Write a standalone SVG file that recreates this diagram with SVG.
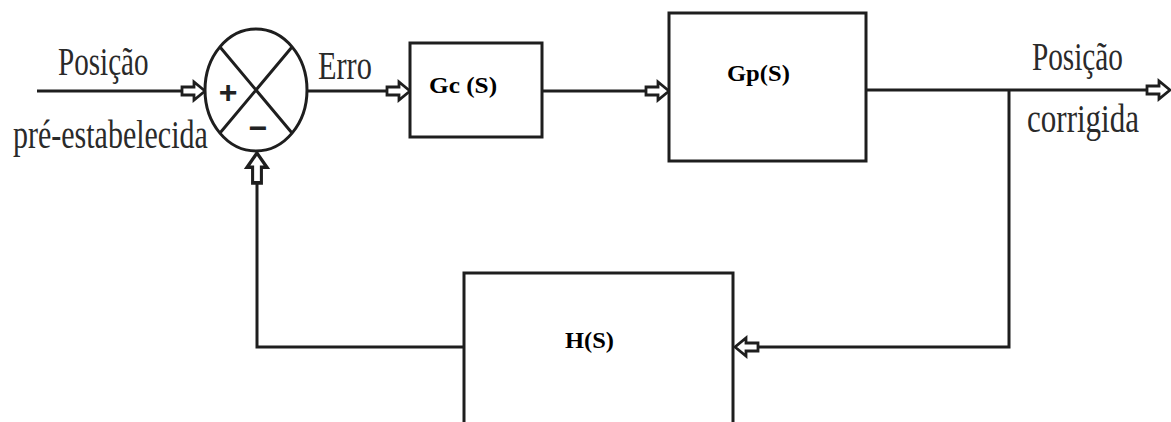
<svg xmlns="http://www.w3.org/2000/svg" xmlns:xlink="http://www.w3.org/1999/xlink" width="1171" height="422" viewBox="0 0 1171 422">
<style>
.ln{fill:none;stroke:#1e1e1e;stroke-width:3}
.box{fill:#fff;stroke:#1e1e1e;stroke-width:3}
.lbl{font-family:"Liberation Serif","Times New Roman",serif;fill:#2a2a2a;font-size:41px}
.blk{font-family:"Liberation Serif","Times New Roman",serif;font-weight:bold;fill:#000;font-size:23px}
.sgn{font-family:"Liberation Sans",Arial,sans-serif;font-weight:bold;fill:#222;font-size:32px}
</style>
<defs>
<path id="harrow" d="M0,0 L-11,-9 L-11,-4 L-23,-4 L-23,4 L-11,4 L-11,9 Z" fill="#fff" stroke="#1e1e1e" stroke-width="2.8" stroke-linejoin="miter"/>
</defs>
<rect width="1171" height="422" fill="#fff"/>
<g id="connectors">
<path class="ln" d="M37,91 H183"/>
<path class="ln" d="M307,91 H387"/>
<path class="ln" d="M542,91 H646"/>
<path class="ln" d="M866,90 H1147"/>
<path class="ln" d="M1009,90 V347 H758"/>
<path class="ln" d="M464,347 H257 V181"/>
<use xlink:href="#harrow" transform="translate(205,91)"/>
<use xlink:href="#harrow" transform="translate(410,91)"/>
<use xlink:href="#harrow" transform="translate(669,91)"/>
<use xlink:href="#harrow" transform="translate(1170,90)"/>
<use xlink:href="#harrow" transform="translate(735,347) rotate(180)"/>
<use xlink:href="#harrow" transform="translate(257,153) rotate(-90) scale(1.3,1.1)"/>
</g>
<g id="sum">
<ellipse class="box" cx="256" cy="90" rx="51" ry="61"/>
<path class="ln" d="M220,47 L292,133 M292,47 L220,133"/>
<text class="sgn" x="228" y="103" text-anchor="middle">+</text>
<text class="sgn" x="258" y="139" text-anchor="middle">−</text>
</g>
<g id="input-label">
<text class="lbl" transform="translate(58,75) scale(0.71,1)">Posição</text>
<text class="lbl" transform="translate(13,148) scale(0.732,1)">pré-estabelecida</text>
</g>
<g id="erro-label">
<text class="lbl" transform="translate(318,79) scale(0.74,1)">Erro</text>
</g>
<g id="gc">
<rect class="box" x="410" y="43" width="132" height="94"/>
<text class="blk" transform="translate(429,93) scale(1.1,1)">Gc (S)</text>
</g>
<g id="gp">
<rect class="box" x="669" y="13" width="197" height="148"/>
<text class="blk" transform="translate(727,81) scale(1.07,1)">Gp(S)</text>
</g>
<g id="h">
<rect class="box" x="464" y="273" width="269" height="160"/>
<text class="blk" transform="translate(565,348) scale(1.065,1)">H(S)</text>
</g>
<g id="output-label">
<text class="lbl" transform="translate(1032,70) scale(0.713,1)">Posição</text>
<text class="lbl" transform="translate(1027,132) scale(0.757,1)">corrigida</text>
</g>
</svg>
